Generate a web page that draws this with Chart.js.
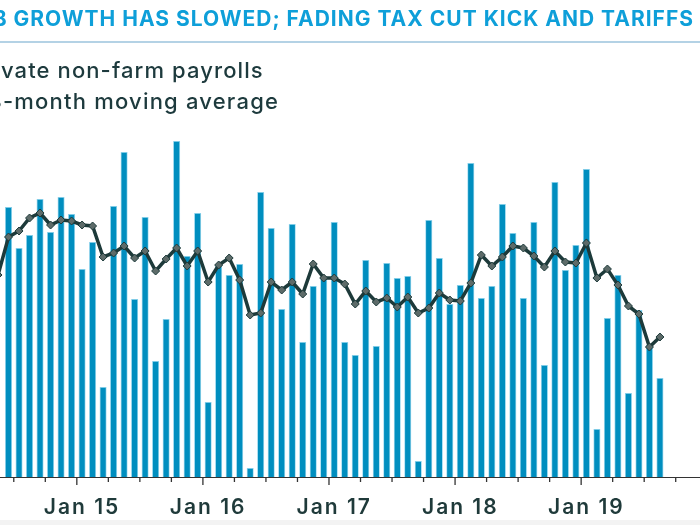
<!DOCTYPE html>
<html>
<head>
<meta charset="utf-8">
<script src="https://cdn.jsdelivr.net/npm/chart.js@4"></script>
<style>
  html, body { margin: 0; padding: 0; background: #ffffff; overflow: hidden; width: 700px; height: 525px; }
  #wrap { position: relative; width: 700px; height: 525px; overflow: hidden; }
  #c { position: absolute; left: -20px; top: 0; }
  #foot { position: absolute; left: 0; bottom: 0; width: 700px; height: 5px; background: #f3f3f3; }
</style>
</head>
<body>
<div id="wrap">
  <canvas id="c" width="740" height="525"></canvas>
  <div id="foot"></div>
</div>
<script>
const titleText = 'JOB GROWTH HAS SLOWED; FADING TAX CUT KICK AND TARIFFS';
const legendLabels = ['Private non-farm payrolls', '3-month moving average'];

const months = [
  'May 14','Jun 14','Jul 14','Aug 14','Sep 14','Oct 14','Nov 14','Dec 14',
  'Jan 15','Feb 15','Mar 15','Apr 15','May 15','Jun 15','Jul 15','Aug 15','Sep 15','Oct 15','Nov 15','Dec 15',
  'Jan 16','Feb 16','Mar 16','Apr 16','May 16','Jun 16','Jul 16','Aug 16','Sep 16','Oct 16','Nov 16','Dec 16',
  'Jan 17','Feb 17','Mar 17','Apr 17','May 17','Jun 17','Jul 17','Aug 17','Sep 17','Oct 17','Nov 17','Dec 17',
  'Jan 18','Feb 18','Mar 18','Apr 18','May 18','Jun 18','Jul 18','Aug 18','Sep 18','Oct 18','Nov 18','Dec 18',
  'Jan 19','Feb 19','Mar 19','Apr 19','May 19','Jun 19','Jul 19','Aug 19','Sep 19','Oct 19','Nov 19','Dec 19'
];

// Private non-farm payrolls, monthly change (thousands)
const payrolls = [
  null, 270, 229, 242, 278, 245, 280, 263,
  208, 235, 90, 271, 325, 178, 260, 116, 158, 336, 221, 264,
  75, 213, 202, 213, 9, 285, 249, 168, 253, 135, 191, 199,
  255, 135, 122, 217, 131, 214, 199, 201, 16, 257, 219, 173,
  192, 314, 179, 191, 273, 244, 179, 255, 112, 295, 207, 232,
  308, 48, 159, 202, 84, 167, 132, 99, null, null, null, null
];

// 3-month moving average (thousands)
const movingAvg = [
  202, 240, 246, 259, 264, 252, 257, 256,
  252, 251, 220, 224, 231, 219, 226, 206, 218, 229, 211, 226,
  195, 212, 219, 197, 162, 164, 195, 187, 195, 183, 213, 199,
  199, 193, 173, 186, 175, 179, 170, 180, 164, 169, 184, 177,
  176, 194, 222, 211, 220, 231, 229, 221, 210, 226, 215, 214,
  234, 199, 208, 192, 171, 163, 130, 140, null, null, null, null
];

const yMin = 0;
const yMax = 350;

const FONT = 'Inter, "Open Sans", "DejaVu Sans", sans-serif';
const VIEW_SHIFT = 20; // canvas is shifted left by this many px

const headerPlugin = {
  id: 'header',
  beforeDraw(chart) {
    // spacing used by the axis tick labels drawn by Chart.js
    chart.ctx.letterSpacing = '2px';
  },
  afterDraw(chart) {
    const ctx = chart.ctx;
    ctx.save();
    // title
    ctx.font = '700 21px ' + FONT;
    ctx.letterSpacing = '1px';
    ctx.fillStyle = '#0e9fd9';
    ctx.textAlign = 'right';
    ctx.textBaseline = 'alphabetic';
    ctx.fillText(titleText, VIEW_SHIFT + 694, 26);
    // rule
    ctx.fillStyle = '#b4d2e5';
    ctx.fillRect(0, 41, chart.width, 2);
    // legend
    ctx.font = '500 22px ' + FONT;
    ctx.textAlign = 'left';
    ctx.fillStyle = '#1d3a3d';
    ctx.letterSpacing = '1.1px';
    const x1 = VIEW_SHIFT + 1 - ctx.measureText('Pri').width;
    ctx.fillText(legendLabels[0], x1, 77.5);
    ctx.letterSpacing = '1.2px';
    const x2 = VIEW_SHIFT + 3 - ctx.measureText('3').width;
    ctx.fillText(legendLabels[1], x2, 108.5);
    // legend markers (outside the visible crop)
    ctx.fillStyle = '#008fbf';
    ctx.fillRect(x1 - 24, 63, 14, 14);
    ctx.strokeStyle = '#1d3a3a';
    ctx.lineWidth = 3;
    ctx.beginPath();
    ctx.moveTo(x2 - 32, 101);
    ctx.lineTo(x2 - 10, 101);
    ctx.stroke();
    ctx.restore();
    ctx.letterSpacing = '0px';
  }
};

const tickPlugin = {
  id: 'quarterTicks',
  afterDraw(chart) {
    const xs = chart.scales.x;
    const ctx = chart.ctx;
    const bottom = chart.chartArea.bottom;
    ctx.save();
    ctx.strokeStyle = '#333333';
    ctx.lineWidth = 1.3;
    for (let i = 1; i < months.length; i++) {
      const m = months[i].slice(0, 3);
      if (m === 'Jan' || m === 'Apr' || m === 'Jul' || m === 'Oct') {
        const px = (xs.getPixelForValue(i - 1) + xs.getPixelForValue(i)) / 2;
        const len = m === 'Jan' ? 8 : 5;
        ctx.beginPath();
        ctx.moveTo(px, bottom);
        ctx.lineTo(px, bottom + len);
        ctx.stroke();
      }
    }
    ctx.restore();
  }
};

new Chart(document.getElementById('c'), {
  data: {
    labels: months,
    datasets: [
      {
        type: 'line',
        label: legendLabels[1],
        data: movingAvg,
        borderColor: '#1d3a3a',
        borderWidth: 3.5,
        tension: 0,
        pointStyle: 'rectRot',
        pointRadius: 4,
        pointBackgroundColor: '#5d6b69',
        pointBorderColor: '#1d3a3a',
        pointBorderWidth: 1,
        order: 0
      },
      {
        type: 'bar',
        label: legendLabels[0],
        data: payrolls,
        backgroundColor: '#008ebf',
        borderColor: 'rgba(110,200,232,0.8)',
        borderWidth: 0.8,
        borderSkipped: 'bottom',
        categoryPercentage: 1.0,
        barPercentage: 0.67,
        order: 1
      }
    ]
  },
  options: {
    responsive: false,
    animation: false,
    devicePixelRatio: 1,
    layout: { padding: { top: 127, left: 10.1, right: 5.7, bottom: 0 } },
    plugins: {
      legend: { display: false },
      title: { display: false },
      tooltip: { enabled: false }
    },
    scales: {
      x: {
        type: 'category',
        offset: true,
        grid: { display: true, drawOnChartArea: false, drawTicks: false, offset: true },
        border: { display: true, color: '#333333', width: 1 },
        ticks: {
          autoSkip: false,
          maxRotation: 0,
          minRotation: 0,
          padding: 18,
          color: '#1f3a3a',
          font: { family: FONT, size: 21, weight: '600' },
          callback: function (value) {
            const l = months[value];
            return l.startsWith('Jan') ? l : '';
          }
        },
        afterFit: function (scale) { scale.height = 48; }
      },
      y: {
        display: false,
        min: yMin,
        max: yMax
      }
    }
  },
  plugins: [headerPlugin, tickPlugin]
});
</script>
</body>
</html>
